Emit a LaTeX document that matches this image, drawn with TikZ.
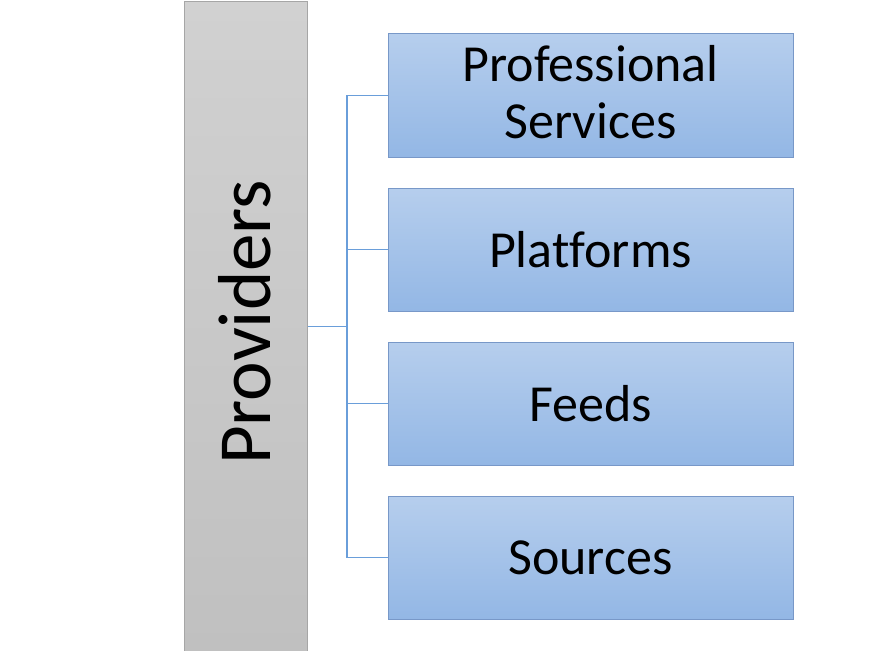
\documentclass[tikz,border=0pt]{standalone}
\usepackage{fontspec}
\setmainfont[Ligatures=NoCommon]{Carlito}
\definecolor{boxtop}{RGB}{182,206,237}
\definecolor{boxbot}{RGB}{147,183,229}
\definecolor{boxline}{RGB}{120,152,200}
\definecolor{conn}{RGB}{106,158,218}
\definecolor{bartop}{RGB}{209,209,209}
\definecolor{barbot}{RGB}{192,192,192}
\begin{document}
\begin{tikzpicture}[x=1pt,y=-1pt,
  itembox/.style={draw=boxline,line width=1pt,top color=boxtop,bottom color=boxbot,
    minimum width=405pt,minimum height=123pt,inner sep=0pt,outer sep=0pt,
    align=center,font=\fontsize{52}{57}\selectfont},
  itemtext/.style={inner sep=0pt,align=center,font=\fontsize{52}{57}\selectfont},
  barbox/.style={draw=gray!70,line width=1pt,top color=bartop,bottom color=barbot,
    minimum width=123pt,minimum height=650pt,inner sep=0pt,outer sep=0pt},
  connline/.style={draw=conn,line width=1.2pt}]
\useasboundingbox (0,0) rectangle (893,650);
\node[barbox] (bar) at (246,327) {};
\node[rotate=90,font=\fontsize{75}{80}\selectfont,inner sep=0pt] (lbl) at (245,322.5) {Providers};
\node[itembox] (b1) at (590.5,95.5) {};
\node[itemtext] (t1) at ([yshift=3pt]b1.center) {Professional\\Services};
\node[itembox] (b2) at (590.5,249.5) {Platforms};
\node[itembox] (b3) at (590.5,403.5) {Feeds};
\node[itembox] (b4) at (590.5,557.5) {Sources};
\coordinate (j) at (347,326.5);
\draw[connline] (bar.east |- j) -- (j);
\draw[connline] (j |- b1.west) -- (j |- b4.west);
\foreach \b in {b1,b2,b3,b4} {\draw[connline] (j |- \b.west) -- (\b.west);}
\end{tikzpicture}
\end{document}
